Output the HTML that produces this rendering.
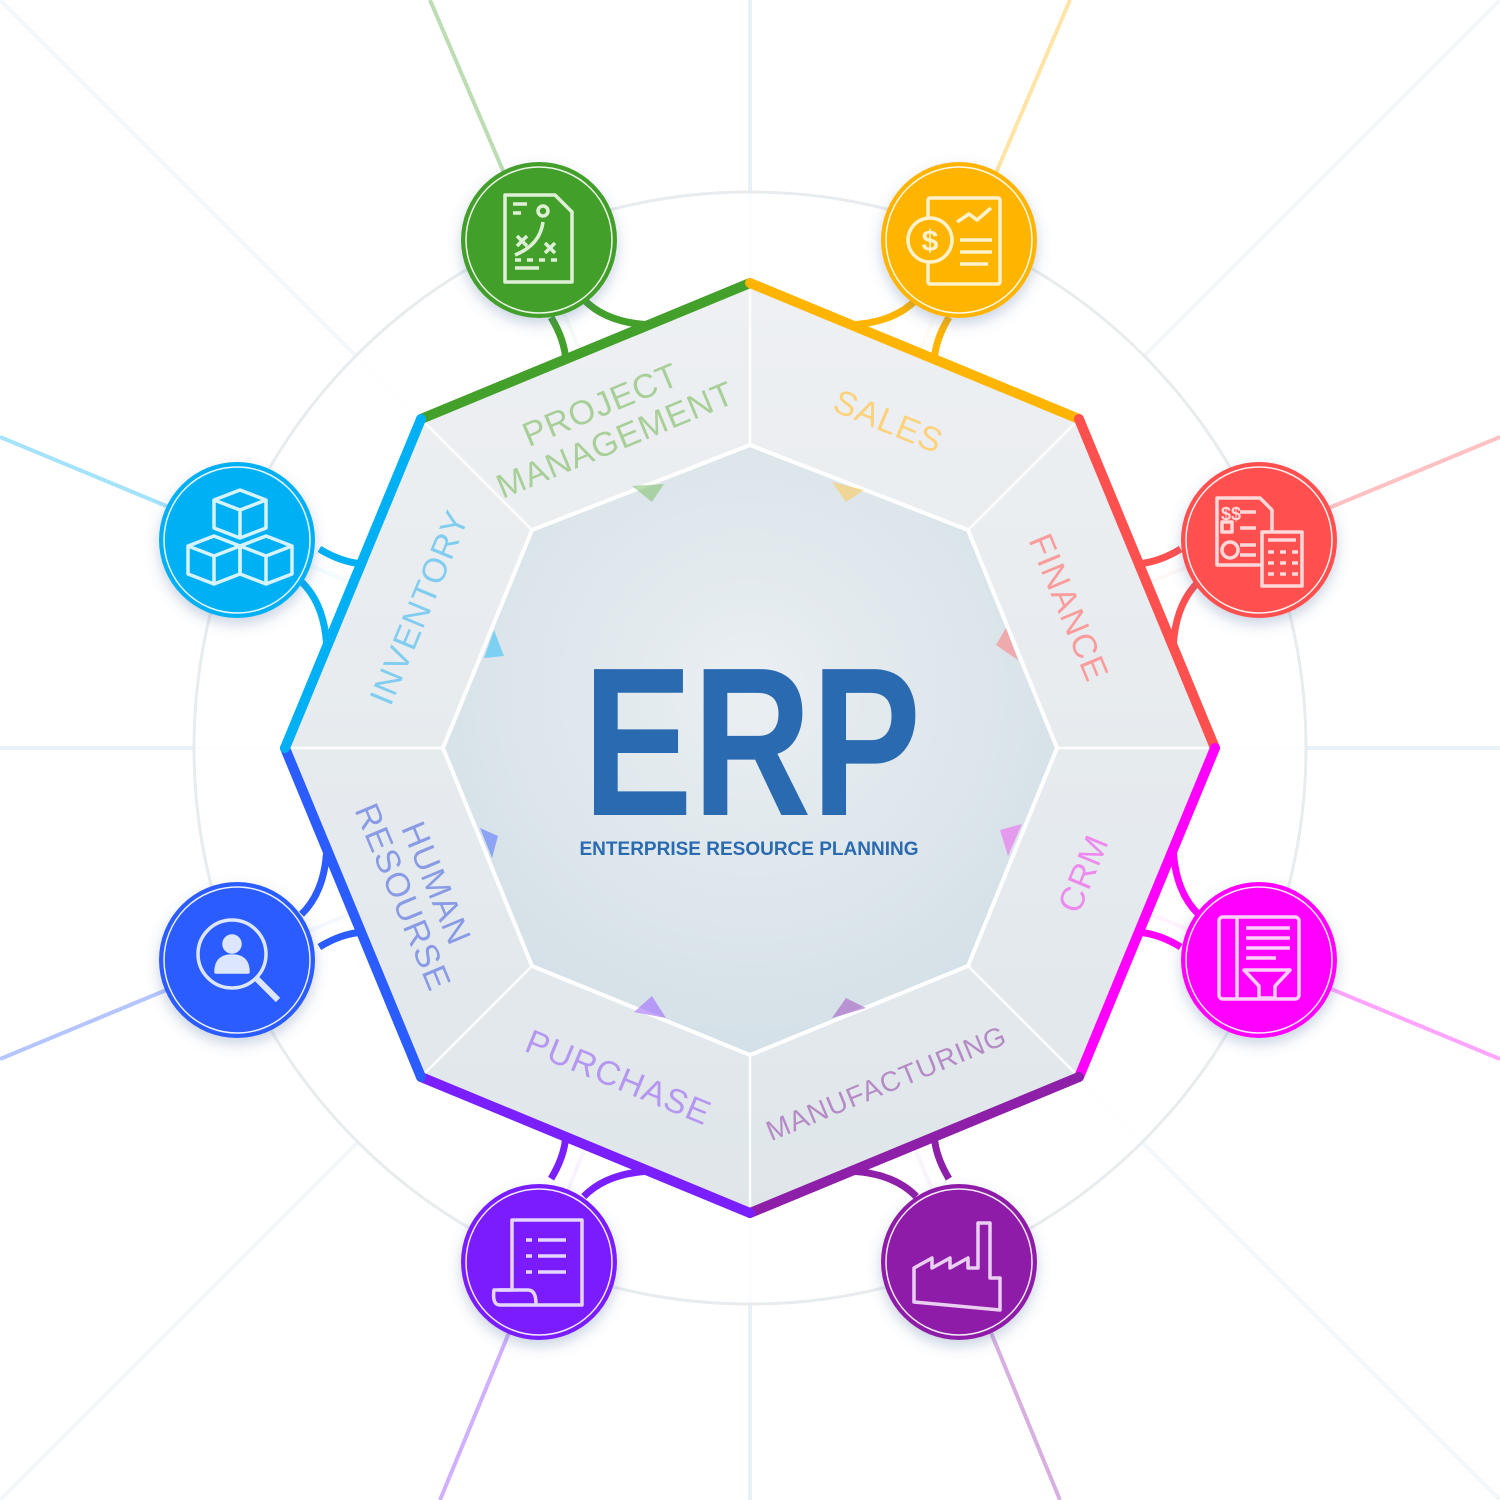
<!DOCTYPE html>
<html><head><meta charset="utf-8"><style>
html,body{margin:0;padding:0;background:#fff}
svg{display:block}
text{font-family:"Liberation Sans",sans-serif}
</style></head><body>
<svg width="1500" height="1500" viewBox="0 0 1500 1500" xmlns="http://www.w3.org/2000/svg">
<defs>
<radialGradient id="inner" cx="50%" cy="40%" r="65%">
<stop offset="0" stop-color="#eaeff2"/><stop offset="1" stop-color="#d2dfe6"/>
</radialGradient>
<linearGradient id="outerg" x1="0" y1="0" x2="0" y2="1">
<stop offset="0" stop-color="#eef0f3"/><stop offset="1" stop-color="#dfe6ea"/>
</linearGradient>
<filter id="sh" x="-30%" y="-30%" width="160%" height="160%"><feDropShadow dx="0" dy="6" stdDeviation="7" flood-color="#5070a0" flood-opacity="0.3"/></filter>
</defs>
<rect width="1500" height="1500" fill="#fff"/>
<g stroke="#e3eef6" stroke-width="4" opacity="0.8">
<line x1="0" y1="748" x2="1500" y2="748"/>
<line x1="750" y1="0" x2="750" y2="1500"/>
<line x1="0" y1="0" x2="1500" y2="1500" stroke="#f1f6f9"/>
<line x1="1500" y1="0" x2="0" y2="1500" stroke="#f1f6f9"/>
</g>
<g stroke-width="4" opacity="0.35">
<line x1="750" y1="748" x2="430" y2="0" stroke="#43a02a"/>
<line x1="750" y1="748" x2="1070" y2="0" stroke="#ffb400"/>
<line x1="750" y1="748" x2="1500" y2="437" stroke="#ff5050"/>
<line x1="750" y1="748" x2="1500" y2="1059" stroke="#ff00ff"/>
<line x1="750" y1="748" x2="1060" y2="1500" stroke="#8e1fa8"/>
<line x1="750" y1="748" x2="440" y2="1500" stroke="#7a1fff"/>
<line x1="750" y1="748" x2="0" y2="1059" stroke="#2a5cff"/>
<line x1="750" y1="748" x2="0" y2="437" stroke="#00b0f5"/>
</g>
<circle cx="750" cy="748" r="556" fill="#fff" fill-opacity="0.85" stroke="#e8ecee" stroke-width="3"/>
<polygon points="750,283 1079,419 1215,748 1079,1077 750,1213 421,1077 285,748 421,419" fill="url(#outerg)"/>
<g stroke="#fff" stroke-width="2.5" opacity="0.9">
<line x1="750" y1="445" x2="750" y2="283"/><line x1="968" y1="530" x2="1079" y2="419"/>
<line x1="1057" y1="748" x2="1215" y2="748"/><line x1="968" y1="966" x2="1079" y2="1077"/>
<line x1="750" y1="1055" x2="750" y2="1213"/><line x1="532" y1="966" x2="421" y2="1077"/>
<line x1="443" y1="748" x2="285" y2="748"/><line x1="532" y1="530" x2="421" y2="419"/>
</g>
<polygon points="750,445 968,530 1057,748 968,966 750,1055 532,966 443,748 532,530" fill="url(#inner)" stroke="#fff" stroke-width="4"/>
<g opacity="0.55">
<polygon points="632,486 664,484 652,502" fill="#7dbf6a"/>
<polygon points="832,482 864,490 846,502" fill="#ffc850"/>
<polygon points="996,645 1006,628 1018,660" fill="#ff7a7a"/>
<polygon points="1000,830 1022,824 1008,856" fill="#f060f0"/>
<polygon points="832,1018 846,998 866,1008" fill="#a050c0"/>
<polygon points="634,1012 652,996 666,1018" fill="#9a60ff"/>
<polygon points="480,828 498,836 492,858" fill="#5070ff"/>
<polygon points="484,658 494,630 504,656" fill="#30c0f8"/>
</g>
<g stroke-width="10" stroke-linecap="round">
<line x1="421" y1="419" x2="750" y2="283" stroke="#43a02a"/>
<line x1="750" y1="283" x2="1079" y2="419" stroke="#ffb400"/>
<line x1="1079" y1="419" x2="1215" y2="748" stroke="#ff5050"/>
<line x1="1215" y1="748" x2="1079" y2="1077" stroke="#ff00ff"/>
<line x1="1079" y1="1077" x2="750" y2="1213" stroke="#8e1fa8"/>
<line x1="750" y1="1213" x2="421" y2="1077" stroke="#7a1fff"/>
<line x1="421" y1="1077" x2="285" y2="748" stroke="#2a5cff"/>
<line x1="285" y1="748" x2="421" y2="419" stroke="#00b0f5"/>
</g>
<g fill="none" stroke-width="7">
<g transform="rotate(-22.5 750 748)" stroke="#43a02a"><path d="M731,274 Q735,300 728,320"/><path d="M768,270 Q780,300 818,318"/></g>
<g transform="rotate(22.5 750 748)" stroke="#ffb400"><path d="M769,274 Q765,300 772,320"/><path d="M732,270 Q720,300 682,318"/></g>
<g transform="rotate(67.5 750 748)" stroke="#ff5050"><path d="M731,274 Q735,300 728,320"/><path d="M768,270 Q780,300 818,318"/></g>
<g transform="rotate(112.5 750 748)" stroke="#ff00ff"><path d="M769,274 Q765,300 772,320"/><path d="M732,270 Q720,300 682,318"/></g>
<g transform="rotate(157.5 750 748)" stroke="#8e1fa8"><path d="M731,274 Q735,300 728,320"/><path d="M768,270 Q780,300 818,318"/></g>
<g transform="rotate(202.5 750 748)" stroke="#7a1fff"><path d="M769,274 Q765,300 772,320"/><path d="M732,270 Q720,300 682,318"/></g>
<g transform="rotate(247.5 750 748)" stroke="#2a5cff"><path d="M731,274 Q735,300 728,320"/><path d="M768,270 Q780,300 818,318"/></g>
<g transform="rotate(292.5 750 748)" stroke="#00b0f5"><path d="M769,274 Q765,300 772,320"/><path d="M732,270 Q720,300 682,318"/></g>
</g>
<g filter="url(#sh)">
<circle cx="539" cy="240" r="78" fill="#43a02a"/>
<circle cx="959" cy="240" r="78" fill="#ffb400"/>
<circle cx="1259" cy="540" r="78" fill="#ff5050"/>
<circle cx="1259" cy="960" r="78" fill="#ff00ff"/>
<circle cx="959" cy="1262" r="78" fill="#8e1fa8"/>
<circle cx="539" cy="1262" r="78" fill="#7a1fff"/>
<circle cx="237" cy="960" r="78" fill="#2a5cff"/>
<circle cx="237" cy="540" r="78" fill="#00b0f5"/>
</g>
<g fill="none" stroke="#fff" stroke-width="1.5" opacity="0.9">
<circle cx="539" cy="240" r="73"/><circle cx="959" cy="240" r="73"/>
<circle cx="1259" cy="540" r="73"/><circle cx="1259" cy="960" r="73"/>
<circle cx="959" cy="1262" r="73"/><circle cx="539" cy="1262" r="73"/>
<circle cx="237" cy="960" r="73"/><circle cx="237" cy="540" r="73"/>
</g>
<g fill="none" stroke-width="3.5" stroke-linejoin="round">
<g stroke="#dff0d6"><path d="M505,195 H555 L572,212 V282 H505 Z"/><path d="M513,204h14M513,213h8M515,268h24M515,260h6m6,0h6m6,0h6m6,0h6"/><circle cx="543" cy="211" r="5"/><path d="M517,236l10,10m0,-10l-10,10M545,243l10,10m0,-10l-10,10M515,255 Q540,245 543,222"/></g>
<g stroke="#fff2cc"><rect x="928" y="198" width="72" height="86" rx="2"/><circle cx="930" cy="240" r="22" fill="#ffb400"/><text x="930" y="251" font-size="30" font-weight="bold" fill="#fff2cc" stroke="none" text-anchor="middle">$</text><path d="M957,222l12,-8 8,6 14,-12M960,240h32M960,252h32M960,264h28"/></g>
<g stroke="#ffd9d9"><path d="M1217,498 H1260 L1272,510 V565 H1217 Z"/><rect x="1262" y="532" width="40" height="54" fill="#ff5050"/><path d="M1268,540h28M1268,552h6m6,0h6m6,0h6M1268,563h6m6,0h6m6,0h6M1268,574h6m6,0h6m6,0h6M1240,512h16M1240,528h16M1240,545h16M1240,555h16M1222,522h10v10h-10z"/><circle cx="1230" cy="550" r="8"/><text x="1231" y="520" font-size="18" font-weight="bold" fill="#ffd9d9" stroke="none" text-anchor="middle">$$</text></g>
<g stroke="#ffd0ff"><rect x="1219" y="917" width="80" height="82" rx="4"/><path d="M1237,917v82M1246,928h44M1246,938h44M1246,948h44M1246,958h30M1244,970h46l-15,16v12h-16v-12z"/></g>
<g stroke="#e9d0f2"><path d="M914,1302 V1268 l18,-10 v10 l18,-10 v10 l18,-10 v10 h10 v-45 h12 v55 h10 v32 Z"/></g>
<g stroke="#e6d6ff"><path d="M512,1220 H582 V1305 H500 Q492,1305 494,1290 H512 Z"/><path d="M498,1290h30 q8,0 8,14"/><path d="M526,1240h6m6,0h28M526,1256h6m6,0h28M526,1272h6m6,0h28"/></g>
<g stroke="#dde6ff"><circle cx="232" cy="954" r="34"/><path d="M256,978l22,22" stroke-width="6"/><circle cx="232" cy="944" r="8" fill="#dde6ff"/><path d="M216,972 q0,-16 16,-16 q16,0 16,16 z" fill="#dde6ff"/></g>
<g stroke="#d6f3ff"><path d="M214,500l26,-10 26,10 -26,10z M214,500v28l26,10 26,-10v-28 M240,510v28"/><path d="M188,546l26,-10 26,10 -26,10z M188,546v28l26,10 26,-10v-28 M214,556v28"/><path d="M240,546l26,-10 26,10 -26,10z M240,546v28l26,10 26,-10v-28 M266,556v28"/></g>
</g>
<g font-size="34" text-anchor="middle" letter-spacing="1">
<text transform="translate(612,432) rotate(-22.5)" fill="#a8cf98"><tspan x="0" y="-18">PROJECT</tspan><tspan x="0" y="20">MANAGEMENT</tspan></text>
<text transform="translate(884,432) rotate(22.5)" fill="#fdd27a">SALES</text>
<text transform="translate(1058,612) rotate(67.5)" fill="#fb9c9c">FINANCE</text>
<text transform="translate(1094,878) rotate(-67.5)" fill="#ee8aee">CRM</text>
<text transform="translate(890,1092) rotate(-22.5)" fill="#b58ac5" font-size="28">MANUFACTURING</text>
<text transform="translate(614,1088) rotate(22.5)" fill="#b596f0">PURCHASE</text>
<text transform="translate(420,890) rotate(67.5)" fill="#8a9be6"><tspan x="0" y="-6">HUMAN</tspan><tspan x="0" y="30">RESOURSE</tspan></text>
<text transform="translate(430,612) rotate(-67.5)" fill="#80cdf0">INVENTORY</text>
</g>
<text x="752" y="815" font-size="212" font-weight="bold" fill="#2a6ab0" text-anchor="middle" textLength="338" lengthAdjust="spacingAndGlyphs">ERP</text>
<text x="749" y="855" font-size="19" font-weight="bold" fill="#2a6ab0" text-anchor="middle" textLength="339" lengthAdjust="spacingAndGlyphs">ENTERPRISE RESOURCE PLANNING</text>
</svg>
</body></html>
